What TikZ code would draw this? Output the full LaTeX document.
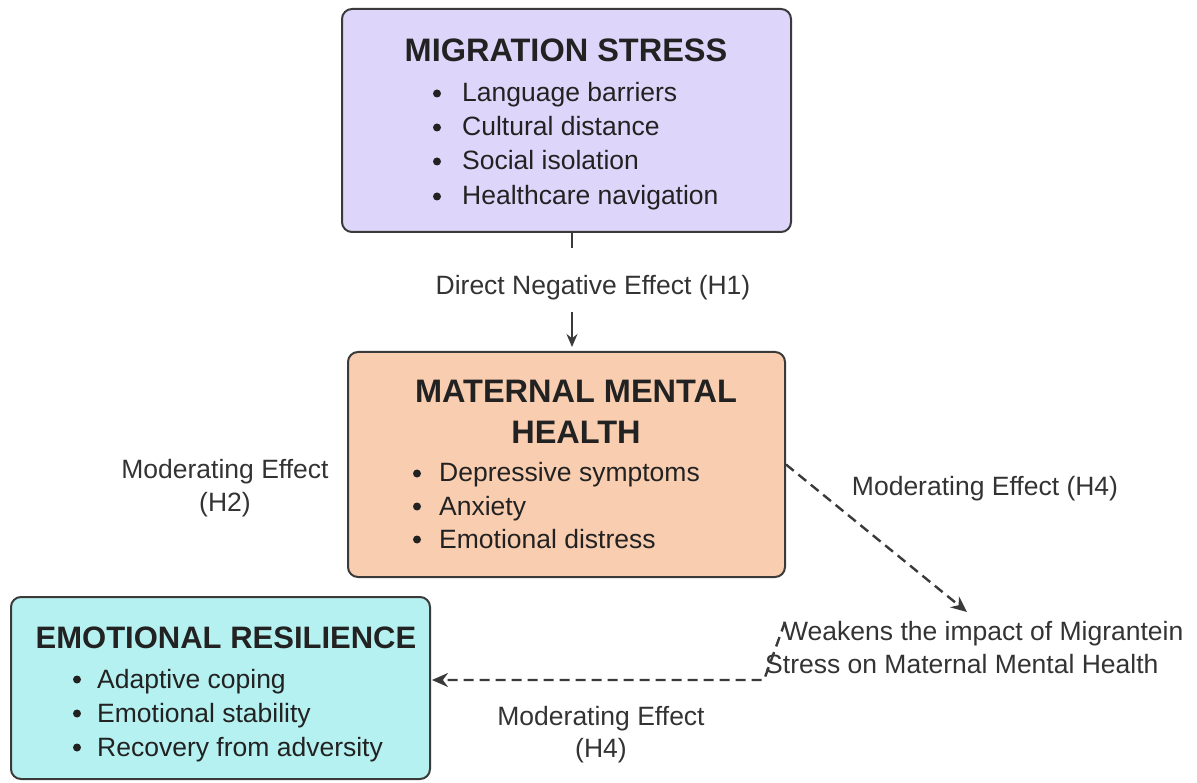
\documentclass[tikz,border=0pt]{standalone}
\usepackage{fontspec}
\setmainfont{Liberation Sans}
\usetikzlibrary{arrows.meta}
\definecolor{lav}{HTML}{DDD6FA}
\definecolor{peach}{HTML}{F9CDB0}
\definecolor{cyanbox}{HTML}{B5F1F0}
\definecolor{bordc}{HTML}{3A3A3A}
\definecolor{txt}{HTML}{222222}
\definecolor{lblc}{HTML}{333333}
\tikzset{
  box/.style={draw=bordc, line width=2pt, rounded corners=10pt, inner sep=0pt},
  ttl/.style={font=\fontsize{32.5}{32.5}\selectfont\bfseries, text=txt, inner sep=0pt, anchor=base},
  item/.style={font=\fontsize{26.5}{26.5}\selectfont, text=txt, inner sep=0pt, anchor=base west},
  lbl/.style={font=\fontsize{26.5}{26.5}\selectfont, text=lblc, inner sep=0pt, anchor=base},
  lblw/.style={font=\fontsize{26.5}{26.5}\selectfont, text=lblc, inner sep=0pt, anchor=base west},
  bul/.style={circle, fill=txt, inner sep=0pt, minimum size=8pt},
  conn/.style={draw=bordc, line width=1.6pt},
  dconn/.style={draw=bordc, line width=2.4pt, dash pattern=on 10pt off 6pt},
  tip/.style={-{Stealth[length=13pt,width=11pt]}},
  dtip/.style={-{Stealth[length=16pt,width=14pt]}}
}
\begin{document}
\begin{tikzpicture}[x=1pt,y=-1pt]
\useasboundingbox (0,0) rectangle (1197,783);
% boxes
\node[box, fill=lav, minimum width=449pt, minimum height=223pt] (ms) at (566.5,120.5) {};
\node[box, fill=peach, minimum width=437pt, minimum height=225pt] (mmh) at (566.5,464.5) {};
\node[box, fill=cyanbox, minimum width=419pt, minimum height=182pt] (er) at (220.5,688) {};
% titles
\node[ttl] (ms-t) at (566,62) {MIGRATION STRESS};
\node[ttl] (mmh-t1) at (576,403) {MATERNAL MENTAL};
\node[ttl] (mmh-t2) at (576,443) {HEALTH};
\node[ttl, font=\fontsize{31}{31}\selectfont\bfseries] (er-t) at (226,648) {EMOTIONAL RESILIENCE};
% migration items
\foreach \i/\y/\t in {1/102/Language barriers, 2/136/Cultural distance, 3/170/Social isolation, 4/205/Healthcare navigation}{
  \node[bul] (ms-b\i) at (437,\y-8.5) {};
  \node[item] (ms-i\i) at (462,\y) {\t};
}
% maternal items
\foreach \i/\y/\t in {1/482/Depressive symptoms, 2/515/Anxiety, 3/548/Emotional distress}{
  \node[bul] (mmh-b\i) at (417,\y-8.5) {};
  \node[item] (mmh-i\i) at (439,\y) {\t};
}
% resilience items
\foreach \i/\y/\t in {1/688/Adaptive coping, 2/722/Emotional stability, 3/756/Recovery from adversity}{
  \node[bul] (er-b\i) at (77,\y-8.5) {};
  \node[item] (er-i\i) at (97,\y) {\t};
}
% labels
\node[lbl] (h1) at (593,295) {Direct Negative Effect (H1)};
\node[lbl] (h2a) at (225,478) {Moderating Effect};
\node[lbl] (h2b) at (225,511) {(H2)};
\node[lbl] (h4a) at (985,495) {Moderating Effect (H4)};
\node[lblw] (wk1) at (783,640) {Weakens the impact of Migrantein};
\node[lblw] (wk2) at (765,673) {Stress on Maternal Mental Health};
\node[lbl] (h4b1) at (601,725) {Moderating Effect};
\node[lbl] (h4b2) at (601,757) {(H4)};
% connectors
\coordinate (h1top) at (572,248);
\coordinate (h1bot) at (572,312);
\draw[conn] (ms.south -| h1top) -- (h1top);
\draw[conn, tip, shorten >=4pt] (h1bot) -- (mmh.north -| h1bot);
\coordinate (wtip) at (967,612);
\draw[dconn, dtip] (mmh.east) -- (wtip);
\coordinate (wstart) at (785,622);
\coordinate (wcorner) at (764,680);
\draw[dconn, dtip] (wstart) -- (wcorner) -- ([xshift=1pt]er.east |- wcorner);
\end{tikzpicture}
\end{document}
